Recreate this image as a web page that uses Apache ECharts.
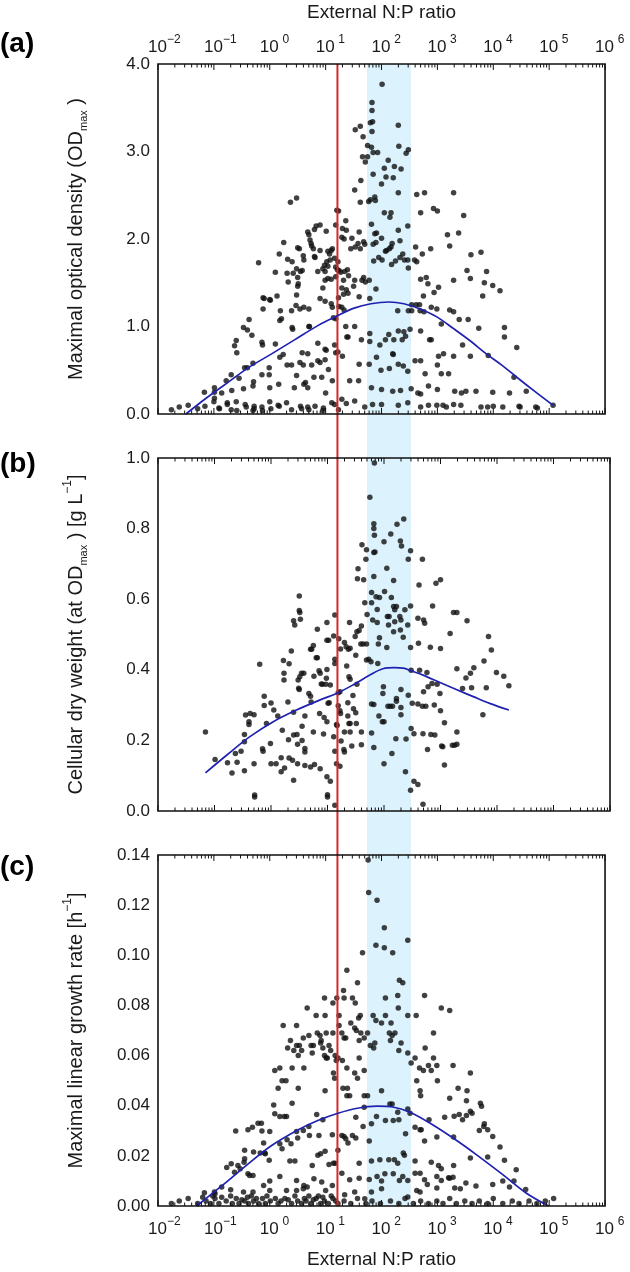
<!DOCTYPE html>
<html><head><meta charset="utf-8">
<script src="https://cdn.jsdelivr.net/npm/echarts@6/dist/echarts.min.js"></script>
<style>html,body{margin:0;padding:0;background:#fff}#c{width:630px;height:1272px}</style>
</head><body><div id="c"></div>
<script>
const FONT = 'Liberation Sans, Arial, Helvetica, sans-serif';
const xMin = 0.01, xMax = 1e6;
const redfieldRatio = 15;
const bandRange = [50, 300];
const decadeExponents = [-2, -1, 0, 1, 2, 3, 4, 5, 6];
const yAxisA = { max: 4, interval: 1, digits: 1 };
const yAxisB = { max: 1, interval: 0.2, digits: 1 };
const yAxisC = { max: 0.14, interval: 0.02, digits: 2 };

// points: [log10(external N:P ratio), value]
const odPoints = [
[-1.76,0.05],[-1.62,0.08],[-1.46,0.10],[-1.29,0.06],[-1.16,0.09],[-1.0,0.14],[-0.99,0.18],[-0.76,0.13],[-0.76,0.11],[-0.91,0.07],[-0.9,0.06],[-0.69,0.05],[-0.6,0.14],[-0.59,0.04],[-0.44,0.11],[-0.42,0.08],[-0.28,0.09],[-0.28,0.06],[-0.3,0.04],[-0.14,0.08],[-0.13,0.04],[0.0,0.14],[0.02,0.06],[0.15,0.1],[0.17,0.09],[0.3,0.13],[0.39,0.05],[0.55,0.09],[0.57,0.06],[0.68,0.08],[0.7,0.05],[0.81,0.09],[0.96,0.07],[0.95,0.04],[1.11,0.13],[1.16,0.11],[1.23,0.05],[1.29,0.17],[1.37,0.12],[1.52,0.15],[1.7,0.08],[1.84,0.11],[2.0,0.11],[2.3,0.10],[2.47,0.13],[2.70,0.08],[2.84,0.10],[2.99,0.10],[3.1,0.1],[3.16,0.08],[3.29,0.11],[3.42,0.10],[3.78,0.08],[3.9,0.08],[4.0,0.09],[4.17,0.08],[4.46,0.09],[4.48,0.08],[4.76,0.08],[4.79,0.07],[5.07,0.10],
[-1.17,0.25],[-0.99,0.30],[-0.99,0.25],[-0.86,0.24],[-0.78,0.38],[-0.69,0.45],[-0.68,0.27],[-0.55,0.41],[-0.47,0.29],[-0.45,0.53],[-0.4,0.53],[-0.29,0.37],[-0.3,0.32],[-0.3,0.58],[-0.14,0.45],[-0.13,0.79],[-0.14,0.82],[-0.01,0.45],[0,0.30],[-0.01,0.53],[0.16,0.34],[0.18,0.65],[0.24,0.68],[0.31,0.56],[0.39,0.56],[0.48,0.44],[0.44,0.30],[0.54,0.59],[0.6,0.56],[0.58,0.70],[0.68,0.69],[0.61,0.34],[0.64,0.36],[0.75,0.56],[0.79,0.42],[0.68,0.30],[0.86,0.61],[0.9,0.59],[0.93,0.42],[0.86,0.81],[0.99,0.62],[1.05,0.51],[1.0,0.24],[1.12,0.38],[0.99,0.74],[1.01,0.73],[1.16,0.79],[1.18,0.70],[1.22,0.71],[1.3,0.66],[1.38,0.88],[1.4,0.88],[1.43,0.38],[1.59,0.38],[1.6,0.57],[1.52,1.0],[1.79,0.92],[1.79,0.83],[1.91,0.65],[1.78,0.57],[1.82,0.30],[2.0,0.28],[1.99,0.50],[1.97,0.79],[2.07,0.85],[2.13,0.91],[2.14,0.52],[2.2,0.69],[2.21,0.68],[2.22,0.85],[2.3,0.95],[2.3,0.57],[2.37,0.85],[2.39,0.55],[2.4,0.94],[2.43,0.89],[2.34,0.27],[2.2,0.26],[2.47,0.49],[2.51,0.97],[2.53,0.29],[2.6,0.61],[2.7,0.61],[2.65,0.24],[2.7,0.23],[2.7,0.95],[2.78,0.46],[2.86,0.85],[2.89,0.85],[2.84,0.32],[3.0,0.56],[3.02,0.66],[3.11,0.69],[3.07,0.46],[3.2,0.46],[3.0,0.28],[3.29,0.66],[3.31,0.26],[3.43,0.24],[3.51,0.26],[3.59,0.66],[3.69,0.26],[3.99,0.25],[4.29,0.24],
[-0.63,0.78],[-0.6,0.84],[-0.59,0.70],[-0.47,0.99],[-0.4,0.96],[-0.37,1.08],[-0.32,0.90],[-0.2,1.73],[-0.12,1.33],[-0.1,1.32],[-0.12,1.20],[0,1.31],[0.01,1.30],[0.1,0.80],[0.1,1.62],[0.13,1.35],[0.17,1.83],[0.19,1.18],[0.21,1.09],[0.18,1.07],[0.25,1.96],[0.31,1.61],[0.32,1.77],[0.33,1.51],[0.39,1.18],[0.4,1.74],[0.41,0.97],[0.4,0.99],[0.42,1.61],[0.47,1.24],[0.48,1.36],[0.48,1.66],[0.5,1.56],[0.51,1.49],[0.5,1.46],[0.5,1.9],[0.53,1.89],[0.54,1.2],[0.55,1.63],[0.58,1.64],[0.6,1.81],[0.61,1.76],[0.61,1.22],[0.7,1.0],[0.71,1.0],[0.7,1.2],[0.68,2.08],[0.7,2.05],[0.72,1.99],[0.74,1.95],[0.75,1.92],[0.78,1.89],[0.8,2.11],[0.83,2.15],[0.9,2.16],[0.8,1.8],[0.81,1.79],[0.86,1.63],[0.9,1.87],[0.9,1.32],[0.95,1.66],[0.95,1.44],[0.99,1.53],[0.99,1.63],[0.98,1.70],[1.02,1.74],[0.99,1.29],[1.01,2.09],[1.04,1.69],[1.04,1.55],[1.04,1.86],[1.07,1.83],[1.08,1.76],[1.1,1.87],[1.12,1.89],[1.1,1.54],[1.1,1.26],[1.12,1.22],[1.14,1.10],[1.18,1.09],[1.16,1.78],[1.18,1.68],[1.18,1.57],[1.18,2.16],[1.2,2.33],[1.23,2.32],[1.21,1.65],[1.22,1.74],[1.23,1.33],[1.24,1.64],[1.24,1.23],[1.27,1.62],[1.29,1.44],[1.29,1.22],[1.29,2.02],[1.3,2.12],[1.32,1.37],[1.32,1.53],[1.33,2.0],[1.33,1.19],[1.34,1.63],[1.36,2.21],[1.37,2.10],[1.37,1.42],[1.39,1.65],[1.40,1.38],[1.41,1.58],[1.45,1.89],[1.47,2.01],[1.5,1.46],[1.52,1.53],[1.53,1.91],[1.58,1.95],[1.6,2.08],[1.62,1.89],[1.6,1.34],[1.65,1.53],[1.68,1.56],[1.71,1.51],[1.68,1.97],[1.7,1.94],[1.78,1.53],[1.79,1.32],[1.82,2.17],[1.85,1.94],[1.9,1.96],[1.86,1.75],[1.88,2.06],[1.91,2.07],[1.9,1.43],[1.95,1.79],[2.01,1.76],[2.0,2.01],[2.07,1.86],[2.09,1.87],[2.14,1.89],[2.17,1.91],[2.19,1.95],[2.18,1.71],[2.25,1.75],[2.3,2.10],[2.33,1.98],[2.33,1.79],[2.38,1.83],[2.41,1.76],[2.47,1.76],[2.47,2.15],[2.48,1.67],[2.59,1.76],[2.63,1.74],[2.61,1.91],[2.73,1.83],[2.88,1.89],[2.7,1.54],[2.8,1.56],[2.83,1.49],[2.75,1.35],[3.02,1.45],[2.94,1.39],[2.89,1.22],[2.99,1.2],[3.29,1.53],[3.18,2.05],[3.38,2.07],[3.22,1.92],[3.6,1.82],[3.78,1.85],[3.53,1.64],[3.59,1.55],[3.88,1.63],[3.84,1.50],[3.99,1.47],[4.12,1.41],[3.81,1.35],[3.22,1.19],[3.29,1.17],[3.39,1.08],[3.55,1.08],[3.07,1.03],[3.45,0.79],[3.74,0.98],[3.91,0.67],[4.2,0.99],[4.2,0.88],[4.42,0.76],[4.37,0.42],[4.59,0.26],[2.54,1.25],[2.62,1.25],[2.68,1.25],[2.69,1.18],[2.76,1.17],[2.48,1.18],[2.54,1.18],[2.29,1.18],[1.36,1.0],[1.64,0.85],
[2.01,3.77],[1.83,3.56],[1.83,3.47],[1.8,3.33],[1.84,3.34],[1.83,3.23],[1.62,3.29],[1.53,3.25],[1.67,3.17],[1.75,3.07],[1.82,3.05],[1.93,2.99],[1.85,2.99],[1.66,2.94],[1.75,2.94],[1.71,2.88],[1.85,2.74],[2.12,2.90],[2.05,2.81],[2.08,2.71],[2.21,2.70],[2.23,2.83],[2.35,2.8],[2.0,2.63],[1.63,2.67],[1.52,2.56],[2.3,3.30],[2.31,3.06],[2.44,2.98],[2.48,3.02],[2.3,2.53],[1.62,2.42],[1.77,2.43],[1.8,2.45],[1.88,2.48],[1.89,2.44],[2.63,2.51],[2.77,2.53],[3.29,2.53],[2.05,2.30],[2.17,2.30],[2.15,2.25],[2.7,2.30],[2.93,2.35],[3.0,2.32],[3.47,2.27],[0.37,2.42],[0.48,2.47]
];
const odFit = [[-1.5,0],[-1.14,0.18],[-0.73,0.37],[-0.38,0.53],[0.04,0.69],[0.45,0.85],[0.86,1.01],[1.17,1.11],[1.51,1.21],[1.81,1.26],[2.13,1.28],[2.4,1.26],[2.69,1.20],[2.99,1.11],[3.28,0.98],[3.58,0.84],[3.87,0.69],[4.17,0.55],[4.46,0.40],[4.76,0.25],[5.07,0.10]];

const dwPoints = [
[-1.16,0.224],[-0.99,0.146],[-0.77,0.137],[-0.69,0.108],[-0.63,0.163],[-0.6,0.138],[-0.53,0.169],[-0.47,0.114],[-0.47,0.196],[-0.47,0.217],[-0.45,0.272],[-0.39,0.245],[-0.39,0.253],[-0.37,0.276],[-0.3,0.273],[-0.3,0.134],[-0.29,0.045],[-0.29,0.04],[-0.2,0.416],[-0.15,0.176],[-0.14,0.169],[-0.12,0.325],[-0.12,0.299],[-0.08,0.248],[-0.01,0.191],[0.0,0.306],[0.0,0.134],[0.05,0.286],[0.09,0.134],[0.12,0.269],[0.18,0.111],[0.18,0.151],[0.2,0.229],[0.23,0.371],[0.23,0.39],[0.22,0.426],[0.24,0.122],[0.31,0.202],[0.3,0.309],[0.32,0.417],[0.32,0.150],[0.36,0.453],[0.38,0.144],[0.4,0.28],[0.4,0.087],[0.4,0.539],[0.42,0.527],[0.4,0.215],[0.46,0.217],[0.47,0.189],[0.47,0.134],[0.48,0.371],[0.51,0.38],[0.5,0.568],[0.51,0.562],[0.52,0.543],[0.5,0.609],[0.5,0.344],[0.49,0.348],[0.54,0.39],[0.58,0.39],[0.55,0.20],[0.55,0.24],[0.6,0.177],[0.6,0.167],[0.6,0.269],[0.6,0.129],[0.7,0.125],[0.67,0.333],[0.7,0.325],[0.7,0.458],[0.72,0.458],[0.71,0.309],[0.75,0.224],[0.75,0.469],[0.76,0.382],[0.77,0.132],[0.8,0.434],[0.82,0.434],[0.82,0.515],[0.85,0.397],[0.87,0.39],[0.86,0.276],[0.87,0.12],[0.89,0.36],[0.91,0.359],[0.97,0.359],[0.94,0.265],[0.93,0.218],[0.98,0.376],[0.99,0.401],[0.99,0.534],[0.99,0.484],[1.02,0.484],[0.99,0.097],[1.05,0.084],[1.0,0.046],[1.0,0.04],[0.99,0.253],[1.03,0.307],[1.01,0.305],[1.05,0.357],[1.11,0.496],[1.13,0.555],[1.13,0.43],[1.13,0.418],[1.11,0.21],[1.13,0.169],[1.13,0.016],[1.16,0.245],[1.17,0.242],[1.16,0.134],[1.19,0.335],[1.22,0.338],[1.2,0.488],[1.23,0.459],[1.19,0.298],[1.22,0.284],[1.23,0.276],[1.22,0.127],[1.24,0.198],[1.3,0.477],[1.33,0.465],[1.37,0.458],[1.4,0.461],[1.29,0.174],[1.3,0.167],[1.3,0.224],[1.34,0.411],[1.36,0.307],[1.36,0.269],[1.38,0.38],[1.4,0.373],[1.39,0.534],[1.38,0.248],[1.4,0.248],[1.4,0.224],[1.43,0.184],[1.45,0.327],[1.46,0.29],[1.49,0.494],[1.52,0.508],[1.5,0.441],[1.5,0.278],[1.51,0.248],[1.52,0.359],[1.53,0.658],[1.54,0.686],[1.56,0.511],[1.59,0.473],[1.63,0.473],[1.69,0.473],[1.6,0.524],[1.6,0.224],[1.6,0.188],[1.61,0.754],[1.64,0.655],[1.66,0.59],[1.68,0.713],[1.69,0.74],[1.69,0.428],[1.73,0.43],[1.7,0.557],[1.75,0.889],[1.77,0.423],[1.78,0.619],[1.78,0.59],[1.78,0.303],[1.82,0.302],[1.78,0.221],[1.8,0.541],[1.82,0.814],[1.82,0.8],[1.83,0.781],[1.82,0.732],[1.84,0.734],[1.82,0.664],[1.82,0.18],[1.83,0.986],[1.86,0.607],[1.92,0.605],[1.88,0.571],[1.88,0.534],[1.9,0.473],[1.92,0.491],[1.89,0.418],[1.91,0.269],[1.97,0.253],[2.0,0.253],[1.98,0.333],[1.99,0.352],[2.0,0.134],[2.0,0.763],[2.01,0.622],[2.05,0.688],[2.05,0.463],[2.06,0.551],[2.09,0.551],[2.08,0.527],[2.07,0.297],[2.11,0.297],[2.15,0.297],[2.12,0.785],[2.13,0.605],[2.14,0.163],[2.17,0.653],[2.17,0.579],[2.19,0.57],[2.22,0.579],[2.17,0.508],[2.19,0.536],[2.22,0.311],[2.22,0.319],[2.21,0.205],[2.23,0.812],[2.28,0.551],[2.3,0.541],[2.29,0.513],[2.29,0.765],[2.31,0.751],[2.3,0.344],[2.3,0.293],[2.3,0.273],[2.34,0.492],[2.35,0.827],[2.37,0.57],[2.38,0.111],[2.39,0.204],[2.42,0.527],[2.43,0.328],[2.43,0.713],[2.47,0.737],[2.47,0.581],[2.47,0.463],[2.48,0.399],[2.48,0.234],[2.47,0.059],[2.5,0.305],[2.53,0.219],[2.53,0.084],[2.6,0.075],[2.62,0.64],[2.6,0.546],[2.61,0.475],[2.63,0.399],[2.6,0.303],[2.68,0.713],[2.7,0.541],[2.72,0.532],[2.68,0.297],[2.74,0.297],[2.69,0.219],[2.69,0.019],[2.7,0.338],[2.76,0.392],[2.77,0.174],[2.78,0.352],[2.82,0.464],[2.83,0.217],[2.9,0.215],[2.86,0.581],[2.85,0.361],[2.94,0.359],[2.89,0.30],[2.92,0.645],[3.0,0.655],[2.99,0.333],[3.0,0.46],[3.0,0.284],[3.02,0.184],[3.04,0.182],[3.07,0.25],[3.07,0.13],[3.17,0.503],[3.21,0.186],[3.25,0.186],[3.29,0.189],[3.23,0.562],[3.29,0.562],[3.29,0.224],[3.29,0.403],[3.39,0.347],[3.45,0.377],[3.47,0.539],[3.53,0.39],[3.55,0.349],[3.59,0.406],[3.75,0.273],[3.77,0.425],[3.81,0.349],[3.85,0.494],[3.9,0.456],[3.99,0.392],[4.12,0.382],[4.21,0.355]
];
const dwFit = [[-1.16,0.108],[-0.77,0.16],[-0.38,0.21],[0.04,0.253],[0.45,0.286],[0.86,0.314],[1.16,0.333],[1.45,0.357],[1.75,0.385],[1.98,0.403],[2.19,0.406],[2.34,0.405],[2.48,0.397],[2.69,0.385],[2.99,0.364],[3.28,0.344],[3.58,0.324],[3.87,0.305],[4.21,0.286]];

const grPoints = [
[-1.76,0.001],[-1.62,0.002],[-1.46,0.003],[-1.29,0.001],[-1.14,0.002],[-1.06,0.001],[-0.98,0.003],[-0.91,0.001],[-0.78,0.002],[-0.67,0.001],[-0.6,0.003],[-0.55,0.001],[-0.45,0.002],[-0.38,0.001],[-0.29,0.002],[-0.2,0.001],[-0.13,0.003],[-0.08,0.001],[0.01,0.002],[0.15,0.001],[0.27,0.003],[0.39,0.001],[0.5,0.002],[0.57,0.001],[0.65,0.002],[0.74,0.001],[0.83,0.003],[0.91,0.001],[0.98,0.002],[1.05,0.001],[1.13,0.003],[1.22,0.001],[1.33,0.002],[1.45,0.001],[1.57,0.003],[1.72,0.001],[1.83,0.002],[1.98,0.001],[2.16,0.002],[2.31,0.001],[2.42,0.003],[2.57,0.001],[2.7,0.002],[2.84,0.001],[2.99,0.002],[3.1,0.001],[3.22,0.003],[3.34,0.001],[3.49,0.002],[3.62,0.001],[3.75,0.002],[3.9,0.001],[4.0,0.003],[4.17,0.001],[4.34,0.002],[4.46,0.001],[4.64,0.002],[4.78,0.001],[4.93,0.002],[5.08,0.003],
[-1.2,0.0035],[-0.7,0.004],[-0.5,0.0025],[-0.33,0.004],[-0.24,0.003],[-0.05,0.004],[0.1,0.003],[0.2,0.002],[0.33,0.0025],[0.45,0.004],[0.62,0.003],[0.7,0.004],[0.78,0.0025],[0.87,0.004],[0.95,0.0035],[1.1,0.004],[1.18,0.002],[-0.86,0.0035],[-1.02,0.004],[-0.4,0.0035],
[-1.17,0.0053],[-0.99,0.0056],[-0.98,0.0049],[-0.86,0.0076],[-0.77,0.0154],[-0.69,0.0169],[-0.7,0.0065],[-0.63,0.0135],[-0.57,0.0162],[-0.53,0.0149],[-0.46,0.0175],[-0.45,0.0188],[-0.45,0.0222],[-0.39,0.0129],[-0.36,0.0122],[-0.3,0.0122],[-0.29,0.0215],[-0.47,0.0056],[-0.3,0.0056],[-0.11,0.0082],[-0.17,0.0211],[-0.09,0.0211],[-0.01,0.0182],[0,0.01],[0,0.0062],[0.18,0.0118],[0.3,0.0062],[0.36,0.0179],[0.45,0.0179],[0.48,0.0102],[0.48,0.0062],[0.6,0.0069],[0.61,0.0082],[0.67,0.0076],[0.76,0.0162],[0.79,0.0109],[0.86,0.0202],[0.91,0.0208],[0.93,0.0096],[0.99,0.0218],[1.0,0.0062],[1.06,0.0166],[1.12,0.0082],[1.14,0.0171],[1.17,0.0171],[1.22,0.0222],[1.29,0.0131],[1.34,0.0045],[1.43,0.0105],[1.52,0.0056],[1.6,0.0171],[1.6,0.0111],[1.7,0.0029],[1.78,0.0106],[1.82,0.0056],[1.82,0.0179],[1.92,0.0118],[1.97,0.0184],[2.0,0.01],[2.0,0.0069],[2.06,0.0129],[2.13,0.0184],[2.21,0.0129],[2.23,0.0184],[2.29,0.0171],[2.32,0.0102],[2.38,0.0118],[2.39,0.0211],[2.41,0.0202],[2.47,0.0102],[2.47,0.0036],[2.6,0.0131],[2.69,0.0131],[2.6,0.0179],[2.63,0.0062],[2.69,0.0056],[2.77,0.0105],[2.89,0.0175],[2.82,0.0086],[2.99,0.0118],[2.99,0.0072],[3.02,0.0162],[3.07,0.0102],[3.07,0.0149],[3.2,0.0113],[3.28,0.0115],[3.29,0.0162],[3.31,0.0072],[3.41,0.0069],[3.51,0.0092],[3.69,0.008],[3.99,0.0086],[4.17,0.01],[4.29,0.0076],[4.37,0.01],[4.41,0.0145],[4.2,0.0182],[4.58,0.0066],
[-0.61,0.0299],[-0.39,0.0304],[-0.31,0.0314],[-0.21,0.033],[-0.15,0.033],[-0.14,0.0299],[-0.11,0.0251],[-0.08,0.0208],[0.0,0.0297],[0.07,0.0403],[0.09,0.0368],[0.18,0.0357],[0.26,0.0357],[0.3,0.0357],[0.18,0.0248],[0.22,0.0228],[0.31,0.0264],[0.38,0.0248],[0.4,0.041],[0.48,0.0297],[0.5,0.0271],[0.6,0.0301],[0.7,0.0317],[0.71,0.0281],[0.84,0.0365],[0.88,0.0281],[0.95,0.0344],[0.99,0.046],[1.12,0.0284],[1.29,0.0281],[1.33,0.0277],[1.36,0.0268],[1.4,0.0251],[1.48,0.0281],[1.54,0.0271],[1.54,0.0354],[1.69,0.0394],[1.67,0.0317],[1.78,0.0259],[1.82,0.0328],[1.91,0.0357],[2.07,0.0341],[2.15,0.0407],[2.19,0.0407],[2.21,0.0341],[2.29,0.0374],[2.31,0.0344],[2.43,0.0288],[2.47,0.0387],[2.51,0.037],[2.6,0.0314],[2.69,0.0304],[2.71,0.0304],[2.77,0.0259],[2.85,0.0344],[2.99,0.0275],[3.13,0.0354],[3.22,0.0111],[3.29,0.0275],[3.3,0.0358],[3.39,0.0365],[3.45,0.0344],[3.52,0.0361],[3.59,0.0191],[3.59,0.0378],[3.62,0.037],[3.75,0.0301],[3.83,0.0317],[3.84,0.0328],[3.9,0.0304],[3.9,0.0195],[3.99,0.0277],[4.12,0.0235],[3.79,0.0398],
[0.15,0.047],[0.22,0.050],[0.29,0.050],[0.18,0.055],[0.09,0.054],[0.24,0.072],[0.48,0.072],[0.37,0.066],[0.32,0.063],[0.43,0.062],[0.48,0.064],[0.57,0.062],[0.51,0.060],[0.4,0.055],[0.51,0.047],[0.53,0.064],[0.6,0.067],[0.67,0.079],[0.74,0.064],[0.78,0.064],[0.76,0.061],[0.61,0.055],[0.7,0.068],[0.83,0.076],[0.85,0.069],[0.9,0.068],[0.92,0.066],[0.91,0.065],[0.95,0.063],[0.98,0.060],[1.01,0.059],[0.99,0.076],[0.98,0.083],[1.01,0.069],[1.03,0.059],[1.06,0.064],[1.09,0.062],[1.13,0.081],[1.13,0.069],[1.14,0.053],[1.16,0.051],[1.17,0.060],[1.19,0.058],[1.22,0.059],[1.2,0.083],[1.24,0.076],[1.24,0.072],[1.29,0.069],[1.3,0.058],[1.31,0.047],[1.39,0.047],[1.33,0.067],[1.36,0.067],[1.33,0.083],[1.38,0.094],[1.32,0.086],[1.38,0.055],[1.38,0.044],[1.43,0.044],[1.45,0.073],[1.52,0.071],[1.55,0.070],[1.48,0.083],[1.53,0.081],[1.52,0.053],[1.57,0.051],[1.57,0.089],[1.59,0.075],[1.62,0.076],[1.6,0.066],[1.69,0.067],[1.6,0.059],[1.63,0.069],[1.69,0.054],[1.69,0.044],[1.75,0.044],[1.66,0.101],[1.75,0.069],[1.8,0.064],[1.86,0.063],[1.88,0.065],[1.76,0.138],[1.77,0.125],[1.9,0.104],[1.92,0.122],[1.85,0.076],[1.9,0.074],[2.0,0.073],[2.0,0.046],[2.05,0.111],[2.05,0.103],[2.07,0.083],[2.07,0.076],[2.17,0.073],[2.2,0.101],[2.14,0.069],[2.19,0.068],[2.24,0.069],[2.16,0.066],[2.29,0.084],[2.3,0.079],[2.31,0.062],[2.35,0.065],[2.32,0.090],[2.38,0.089],[2.47,0.106],[2.47,0.076],[2.47,0.061],[2.53,0.057],[2.62,0.076],[2.6,0.059],[2.63,0.050],[2.69,0.046],[2.7,0.044],[2.68,0.055],[2.75,0.054],[2.77,0.084],[2.78,0.063],[2.84,0.056],[2.89,0.054],[2.93,0.069],[2.93,0.059],[2.99,0.056],[3.0,0.050],[3.07,0.079],[3.22,0.078],[3.28,0.056],[3.22,0.043],[3.37,0.047],[3.53,0.046],[3.59,0.053],[3.52,0.042],[3.77,0.041]
];
const grFit = [[-1.31,0],[-0.85,0.0082],[-0.38,0.0169],[0.04,0.0242],[0.51,0.0304],[0.86,0.0341],[1.22,0.037],[1.57,0.039],[1.92,0.0398],[2.22,0.0394],[2.51,0.0374],[2.87,0.033],[3.28,0.0271],[3.69,0.0206],[4.17,0.0125],[4.58,0.0053],[4.99,0]];

const yTitleA = '{n|Maximal optical density (OD}{sub|max}{n| )}';
const yTitleB = '{n|Cellular dry weight (at OD}{sub|max}{n| ) [g L}{sup|\u22121}{n|]}';
const yTitleC = '{n|Maximal linear growth rate [h}{sup|\u22121}{n|]}';
const xTitle = 'External N:P ratio';

const toXY = arr => arr.map(p => [Math.pow(10, p[0]), p[1]]);

// tick marks on log axis: decades (major) and 2..9 (minor)
const xTickMarks = [];
decadeExponents.forEach((e, i) => {
  xTickMarks.push([Math.pow(10, e), 1]);
  if (i < decadeExponents.length - 1) for (let k = 2; k <= 9; k++) xTickMarks.push([k * Math.pow(10, e), 0]);
});

const GL = 158, GW = 452;
const grids = [
  { left: GL, width: GW, top: 64, height: 350 },
  { left: GL, width: GW, top: 458, height: 353 },
  { left: GL, width: GW, top: 855, height: 351 }
];

function decadeLabel(v) {
  const e = Math.round(Math.log10(v));
  const s = e < 0 ? '\u2212' + (-e) : String(e);
  return '{sp|}{b|10}{s|' + s + '}';
}
const labelRich = {
  sp: { width: 12 },
  b: { fontSize: 17, lineHeight: 17, verticalAlign: 'bottom', fontFamily: FONT, color: '#1a1a1a' },
  s: { fontSize: 12, lineHeight: 12, verticalAlign: 'bottom', padding: [0, 0, 10, 1], width: 12, align: 'left', fontFamily: FONT, color: '#1a1a1a' }
};
const nameRich = {
  n: { fontSize: 20, lineHeight: 20, verticalAlign: 'top', padding: [4, 0, 0, 0], fontFamily: FONT, color: '#1a1a1a' },
  sub: { fontSize: 11, lineHeight: 11, verticalAlign: 'top', padding: [16, 0, 0, 0], fontFamily: FONT, color: '#1a1a1a' },
  sup: { fontSize: 12, lineHeight: 12, verticalAlign: 'top', padding: [0, 0, 0, 0], fontFamily: FONT, color: '#1a1a1a' }
};

function xAxisFor(gi, pos, showLabel, name, nameGap, margin) {
  return {
    gridIndex: gi, type: 'log', logBase: 10, min: xMin, max: xMax, interval: 1, splitNumber: 8,
    position: pos,
    axisLine: { show: false }, axisTick: { show: false }, splitLine: { show: false }, minorTick: { show: false },
    axisLabel: { show: showLabel, margin: margin, formatter: decadeLabel, rich: labelRich },
    name: name, nameLocation: 'middle', nameGap: nameGap,
    nameTextStyle: { fontSize: 19, color: '#1a1a1a', fontFamily: FONT }
  };
}
function yAxisFor(gi, cfg, title) {
  return {
    gridIndex: gi, type: 'value', min: 0, max: cfg.max, interval: cfg.interval,
    axisLine: { show: false }, axisTick: { show: false }, splitLine: { show: false },
    axisLabel: { fontSize: 17, color: '#1a1a1a', fontFamily: FONT, margin: 8, formatter: v => v.toFixed(cfg.digits) },
    name: title, nameLocation: 'middle', nameRotate: 90, nameGap: 76,
    nameTextStyle: { rich: nameRich }
  };
}
function tickSeries(gi, yHi) {
  return {
    type: 'custom', coordinateSystem: 'cartesian2d', xAxisIndex: gi, yAxisIndex: gi, clip: false, silent: true, z: 12,
    data: xTickMarks.map(t => [t[0], 0, t[1]]), encode: { x: 0, y: 1 },
    renderItem: (params, api) => {
      const x = api.value(0), major = api.value(2);
      const lo = api.coord([x, 0]), hi = api.coord([x, yHi]);
      const len = major ? 6 : 3.5;
      const st = { stroke: '#111', lineWidth: 1 };
      return { type: 'group', children: [
        { type: 'line', shape: { x1: lo[0], y1: lo[1], x2: lo[0], y2: lo[1] - len }, style: st },
        { type: 'line', shape: { x1: hi[0], y1: hi[1], x2: hi[0], y2: hi[1] + len }, style: st }
      ]};
    }
  };
}
function dots(gi, pts) {
  return { type: 'scatter', xAxisIndex: gi, yAxisIndex: gi, data: toXY(pts), symbolSize: 5.5,
    itemStyle: { color: '#111' }, silent: true, z: 3, clip: false };
}
function fit(gi, pts) {
  return { type: 'line', xAxisIndex: gi, yAxisIndex: gi, data: toXY(pts), showSymbol: false, smooth: 0.35,
    lineStyle: { color: '#1f22b0', width: 1.7 }, silent: true, z: 5 };
}

const option = {
  animation: false,
  backgroundColor: '#fff',
  grid: [
    ...grids.map(g => Object.assign({ show: true, borderColor: '#111', borderWidth: 1.6, backgroundColor: 'transparent', z: 10 }, g)),
    { left: GL, width: GW, top: 64, height: 1142 }
  ],
  xAxis: [
    xAxisFor(0, 'top', true, xTitle, 42, 8),
    xAxisFor(1, 'bottom', false, '', 0, 8),
    xAxisFor(2, 'bottom', true, xTitle, 44, 15),
    { gridIndex: 3, type: 'log', min: xMin, max: xMax, show: false }
  ],
  yAxis: [
    yAxisFor(0, yAxisA, yTitleA),
    yAxisFor(1, yAxisB, yTitleB),
    yAxisFor(2, yAxisC, yTitleC),
    { gridIndex: 3, type: 'value', min: 0, max: 1, show: false }
  ],
  graphic: [
    { type: 'text', left: 0, top: 30, style: { text: '(a)', font: 'bold 28px ' + FONT, fill: '#000' } },
    { type: 'text', left: 0, top: 450, style: { text: '(b)', font: 'bold 28px ' + FONT, fill: '#000' } },
    { type: 'text', left: 0, top: 853, style: { text: '(c)', font: 'bold 28px ' + FONT, fill: '#000' } }
  ],
  series: [
    { type: 'custom', coordinateSystem: 'cartesian2d', xAxisIndex: 3, yAxisIndex: 3, silent: true, z: 1,
      data: [[bandRange[0], bandRange[1]]], encode: { x: [0, 1] },
      renderItem: (p, api) => {
        const a = api.coord([api.value(0), 1]), b = api.coord([api.value(1), 0]);
        return { type: 'rect', shape: { x: a[0], y: a[1], width: b[0] - a[0], height: b[1] - a[1] }, style: { fill: '#dcf2fc' } };
      } },
    { type: 'custom', coordinateSystem: 'cartesian2d', xAxisIndex: 3, yAxisIndex: 3, silent: true, z: 4,
      data: [[redfieldRatio, 0]], encode: { x: 0 },
      renderItem: (p, api) => {
        const a = api.coord([api.value(0), 1]), b = api.coord([api.value(0), 0]);
        return { type: 'line', shape: { x1: a[0], y1: a[1], x2: b[0], y2: b[1] }, style: { stroke: '#d42a2a', lineWidth: 2 } };
      } },
    dots(0, odPoints), dots(1, dwPoints), dots(2, grPoints),
    fit(0, odFit), fit(1, dwFit), fit(2, grFit),
    tickSeries(0, yAxisA.max), tickSeries(1, yAxisB.max), tickSeries(2, yAxisC.max)
  ]
};
const chart = echarts.init(document.getElementById('c'), null, { renderer: 'canvas' });
chart.setOption(option);
</script></body></html>
